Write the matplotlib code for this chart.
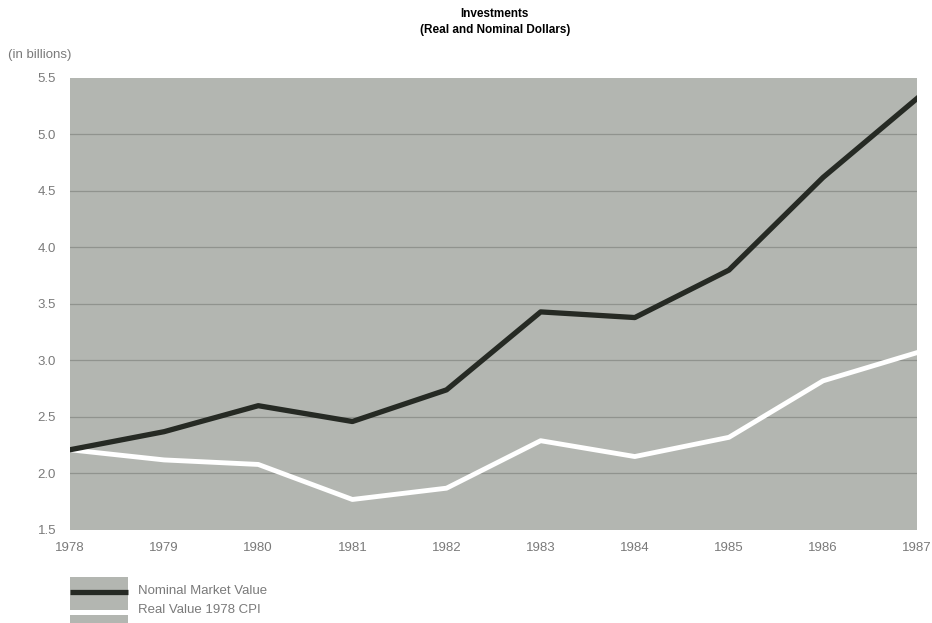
import matplotlib
matplotlib.use("Agg")
import matplotlib.pyplot as plt
from matplotlib.patches import Rectangle
from matplotlib.lines import Line2D

# data (billions)
years = [1978, 1979, 1980, 1981, 1982, 1983, 1984, 1985, 1986, 1987]
nominal = [2.21, 2.37, 2.60, 2.46, 2.74, 3.43, 3.38, 3.80, 4.62, 5.32]
real = [2.21, 2.12, 2.08, 1.77, 1.87, 2.29, 2.15, 2.32, 2.82, 3.07]
yticks = [1.5, 2.0, 2.5, 3.0, 3.5, 4.0, 4.5, 5.0, 5.5]

bg = "#b3b6b1"
dark = "#262a24"
tick_col = "#7a7a7a"

plt.rcParams['font.family'] = ['Liberation Sans', 'DejaVu Sans']

fig = plt.figure(figsize=(9.32, 6.23), dpi=100)
ax = fig.add_axes([0.0751, 0.1493, 0.909, 0.7255])
ax.set_facecolor(bg)

for y in yticks[1:-1]:
    ax.axhline(y, color="#90938e", lw=0.9, zorder=1)

ax.plot(years, real, color="white", lw=3.5, solid_joinstyle="round", zorder=3)
ax.plot(years, nominal, color=dark, lw=3.8, solid_joinstyle="round", zorder=4)

ax.set_xlim(1978, 1987)
ax.set_ylim(1.5, 5.5)
ax.set_xticks(years)
ax.set_xticklabels([str(y) for y in years])
ax.set_yticks(yticks)
ax.set_yticklabels(["%.1f" % y for y in yticks])
ax.tick_params(axis="both", length=0, colors=tick_col, labelsize=9.5)
ax.tick_params(axis="y", pad=10)
ax.tick_params(axis="x", pad=9)
for s in ax.spines.values():
    s.set_visible(False)

fig.text(0.531, 0.978, "Investments", ha="center", va="center",
         fontsize=8.5, fontweight="bold")
fig.text(0.531, 0.952, "(Real and Nominal Dollars)", ha="center", va="center",
         fontsize=8.5, fontweight="bold")
fig.text(0.009, 0.912, "(in billions)", ha="left", va="center",
         fontsize=9.5, color=tick_col)

# legend swatches
W, H = 932, 623
def fx(px):
    return px / W
def fy(py):
    return 1 - py / H

fig.patches.append(Rectangle((fx(70), fy(610)), fx(128) - fx(70), fy(577) - fy(610),
                             transform=fig.transFigure, facecolor=bg, edgecolor="none"))
fig.patches.append(Rectangle((fx(70), fy(640)), fx(128) - fx(70), fy(615) - fy(640),
                             transform=fig.transFigure, facecolor=bg, edgecolor="none"))
fig.lines.append(Line2D([fx(70), fx(128)], [fy(592), fy(592)], transform=fig.transFigure,
                        color=dark, lw=3.8, solid_capstyle="butt"))
fig.lines.append(Line2D([fx(70), fx(128)], [fy(628), fy(628)], transform=fig.transFigure,
                        color="white", lw=3.5, solid_capstyle="butt"))
fig.text(fx(138), fy(591), "Nominal Market Value", ha="left", va="center",
         fontsize=9.5, color=tick_col)
fig.text(fx(138), fy(610), "Real Value 1978 CPI", ha="left", va="center",
         fontsize=9.5, color=tick_col)

fig.savefig("out.png", dpi=100)
